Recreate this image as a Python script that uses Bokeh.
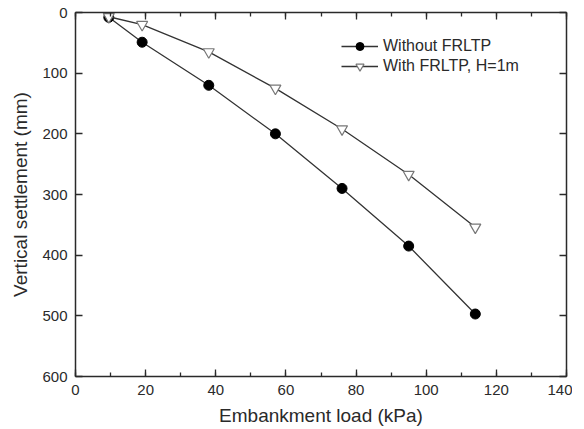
from bokeh.plotting import figure
from bokeh.models import (Range1d, LinearAxis, SingleIntervalTicker, Legend, LegendItem,
                          CustomJSTickFormatter)
from bokeh.embed import file_html
from bokeh.resources import INLINE

load = [9.5, 19, 38, 57, 76, 95, 114]
without_frltp = [8, 49, 120, 200, 290, 385, 497]
with_frltp = [7, 20, 65, 125, 192, 267, 354]
x_label = "Embankment load (kPa)"
y_label = "Vertical settlement (mm)"
names = ["Without FRLTP", "With FRLTP, H=1m"]

FONT = "Liberation Sans"
AX = "#2a2a2a"

p = figure(frame_width=491, frame_height=364, output_backend="svg", toolbar_location=None,
           x_range=Range1d(0, 140), y_range=Range1d(600, 0),
           min_border_left=75, min_border_top=12, min_border_right=6, min_border_bottom=40,
           x_axis_label=x_label, y_axis_label=y_label)
p.grid.visible = False
p.outline_line_color = None
p.background_fill_color = "white"
p.border_fill_color = "white"

def style(ax, dim, show):
    if dim == "x":
        ax.ticker = SingleIntervalTicker(interval=20, num_minor_ticks=2)
        ax.minor_tick_line_color = AX
    else:
        ax.ticker = SingleIntervalTicker(interval=100, num_minor_ticks=0)
        ax.minor_tick_line_color = None
    ax.axis_line_color = AX
    ax.axis_line_width = 1.5
    ax.major_tick_line_color = AX
    ax.major_tick_line_width = 1.3
    ax.minor_tick_line_width = 1.3
    ax.major_tick_in = 7
    ax.major_tick_out = 0
    ax.minor_tick_in = 4
    ax.minor_tick_out = 0
    if show:
        ax.major_label_text_font = FONT
        ax.major_label_text_font_size = "15px"
        ax.major_label_text_color = AX
        ax.axis_label_text_font = FONT
        ax.axis_label_text_font_size = "19px"
        ax.axis_label_text_font_style = "normal"
        ax.axis_label_text_color = AX
    else:
        ax.formatter = CustomJSTickFormatter(code="return '';")
        ax.major_label_standoff = 0
        ax.axis_label = None

style(p.xaxis[0], "x", True)
style(p.yaxis[0], "y", True)
p.xaxis[0].major_label_standoff = 8
p.xaxis[0].axis_label_standoff = 7
p.yaxis[0].major_label_standoff = 8
p.yaxis[0].axis_label_standoff = 8

top = LinearAxis()
right = LinearAxis()
style(top, "x", False)
style(right, "y", False)
p.add_layout(top, "above")
p.add_layout(right, "right")

l1 = p.line(load, without_frltp, line_color="#333333", line_width=1.3)
s1 = p.scatter(load, without_frltp, marker="circle", size=10, fill_color="black", line_color="black")
l2 = p.line(load, with_frltp, line_color="#333333", line_width=1.3)
s2 = p.scatter(load, with_frltp, marker="inverted_triangle", size=11, fill_color="white",
               line_color="#777777", line_width=1.2)

legend = Legend(items=[LegendItem(label=names[0], renderers=[l1, s1]),
                       LegendItem(label=names[1], renderers=[l2, s2])],
                location=(266, 300), border_line_color=None, background_fill_alpha=0,
                padding=0, margin=0, spacing=0, glyph_width=37, glyph_height=20,
                label_height=20, label_standoff=5,
                label_text_font=FONT, label_text_font_size="16px", label_text_color=AX)
p.add_layout(legend, "center")

open("out.html", "w").write(file_html(p, INLINE))
